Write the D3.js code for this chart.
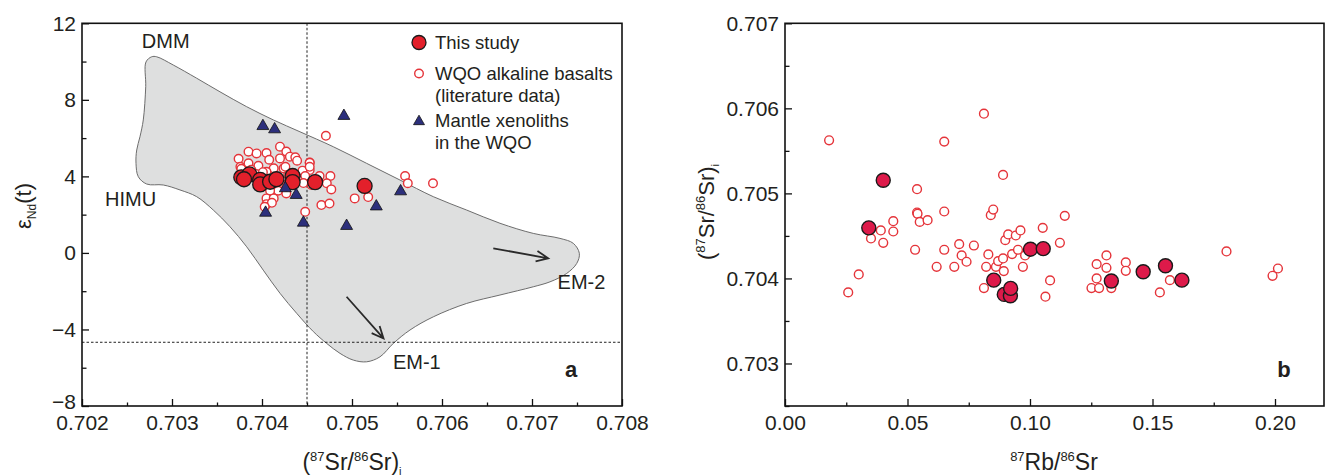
<!DOCTYPE html>
<html lang="en"><head><meta charset="utf-8">
<script type="text/javascript" src="https://cdn.jsdelivr.net/npm/d3@7/dist/d3.min.js"></script>
<style>
  body { margin: 0; background: #fff; }
  text { font-family: "Liberation Sans", Arial, sans-serif; fill: #231f20; }
</style>
</head>
<body>
<script type="text/javascript">
// Sr-Nd isotopes (a) and Rb/Sr vs initial Sr (b)

// ---- panel a data: (87Sr/86Sr)i vs eNd(t)
var aStudy = [[0.70377,3.95],[0.70386,4.10],[0.70380,3.85],[0.70398,3.82],[0.70398,3.58],
  [0.70409,3.72],[0.70416,3.85],[0.70434,4.02],[0.70434,3.70],[0.70459,3.70],[0.70514,3.50]];

var aLit = [[0.70471,6.12],[0.70420,5.55],[0.70427,5.30],[0.70385,5.29],[0.70394,5.20],
  [0.70405,5.22],[0.70431,5.03],[0.70437,5.00],[0.70374,4.92],[0.70408,4.87],[0.70420,4.94],
  [0.70439,4.82],[0.70453,4.73],[0.70385,4.68],[0.70396,4.55],[0.70376,4.50],[0.70413,4.42],
  [0.70424,4.42],[0.70426,4.50],[0.70377,4.40],[0.70453,4.33],[0.70445,4.30],[0.70405,4.24],
  [0.70401,4.22],[0.70464,4.02],[0.70476,4.02],[0.70429,4.07],[0.70416,3.98],[0.70448,4.02],
  [0.70455,3.55],[0.70472,3.64],[0.70477,3.32],[0.70424,3.55],[0.70418,3.25],[0.70427,3.11],
  [0.70409,3.25],[0.70427,3.46],[0.70405,2.85],[0.70413,2.85],[0.70405,2.55],[0.70411,2.62],
  [0.70403,2.41],[0.70448,2.15],[0.70466,2.50],[0.70475,2.58],[0.70503,2.85],[0.70518,2.92],
  [0.70559,4.02],[0.70562,3.64],[0.70590,3.64],[0.70453,4.71],[0.70453,4.50],[0.70388,4.35],
  [0.70440,3.80],[0.70446,3.65]];

var aXeno = [[0.70401,6.68],[0.70414,6.51],[0.70491,7.21],[0.70426,3.43],[0.70438,3.08],
  [0.70404,2.15],[0.70446,1.63],[0.70494,1.46],[0.70527,2.48],[0.70554,3.27]];

// mantle array field outline (DMM - HIMU - EM-1 - EM-2)
var fieldOutline = [[0.702774,10.25],[0.702711,9.98],[0.702708,8.69],[0.702681,6.95],[0.702644,6.07],
  [0.702608,5.38],[0.702600,4.68],[0.702626,3.98],[0.702719,3.60],[0.702903,3.55],[0.703089,3.29],
  [0.703274,2.94],[0.703459,2.24],[0.703644,1.37],[0.703830,0.32],[0.704014,-0.90],[0.704200,-2.11],
  [0.704386,-3.16],[0.704570,-4.11],[0.704719,-4.73],[0.704867,-5.25],[0.705014,-5.60],[0.705163,-5.69],
  [0.705311,-5.43],[0.705459,-4.73],[0.705644,-4.03],[0.705903,-3.34],[0.706274,-2.64],[0.706644,-2.20],
  [0.707014,-1.77],[0.707200,-1.51],[0.707386,-1.07],[0.707497,-0.55],[0.707526,-0.02],[0.707459,0.50],
  [0.707311,0.76],[0.707014,1.02],[0.706644,1.55],[0.706274,2.24],[0.705903,2.94],[0.705533,3.81],
  [0.705163,4.68],[0.704792,5.55],[0.704422,6.33],[0.704126,6.95],[0.703830,7.64],[0.703533,8.42],
  [0.703274,9.13],[0.703014,9.82],[0.702830,10.25]];

var arrowsA = [[[0.70657,0.24],[0.70718,-0.28]], [[0.70494,-2.29],[0.70535,-4.47]]];
var endLabels = [["DMM",0.70293,10.7],["HIMU",0.70254,2.47],["EM-1",0.70572,-6.05],["EM-2",0.70755,-1.9]];
var refSr = 0.7045, refNd = -4.67;

var aXTicks = [0.702,0.703,0.704,0.705,0.706,0.707,0.708];
var aYTicks = [-8,-4,0,4,8,12];

// ---- panel b data: 87Rb/86Sr vs (87Sr/86Sr)i
var bStudy = [[0.0342,0.704595],[0.0401,0.705155],[0.0852,0.70398],[0.0895,0.703812],[0.0920,0.703796],
  [0.0921,0.703883],[0.1002,0.704344],[0.1054,0.70435],[0.1332,0.70397],[0.1462,0.704078],
  [0.1553,0.704149],[0.1620,0.70398]];

var bLit = [[0.0180,0.705624],[0.0258,0.703836],[0.0301,0.704047],[0.0351,0.70447],[0.0391,0.704564],
  [0.0401,0.704419],[0.0442,0.704673],[0.0442,0.704552],[0.0539,0.705049],[0.0539,0.704775],
  [0.0541,0.70476],[0.0550,0.704665],[0.0582,0.704685],[0.0531,0.704337],[0.0650,0.705609],
  [0.0650,0.704787],[0.0650,0.704337],[0.0619,0.704137],[0.0691,0.704137],[0.0711,0.704403],
  [0.0721,0.70427],[0.0741,0.704196],[0.0771,0.704387],[0.0812,0.705937],[0.0812,0.703887],
  [0.0821,0.704137],[0.0830,0.704282],[0.0840,0.704744],[0.0850,0.70481],[0.0861,0.704137],
  [0.0870,0.704204],[0.0890,0.705217],[0.0890,0.704235],[0.0893,0.704086],[0.0899,0.70445],
  [0.0911,0.704517],[0.0927,0.704286],[0.0942,0.704505],[0.0951,0.704337],[0.0961,0.704564],
  [0.0971,0.704137],[0.0980,0.70427],[0.1052,0.704595],[0.1063,0.703785],[0.1082,0.703977],
  [0.1122,0.704419],[0.1142,0.704736],[0.1251,0.703887],[0.1272,0.704168],[0.1272,0.704],
  [0.1282,0.703887],[0.1312,0.70427],[0.1312,0.704125],[0.1332,0.703887],[0.1391,0.704188],
  [0.1391,0.70409],[0.1530,0.703836],[0.1571,0.70398],[0.1802,0.704317],[0.1990,0.704031],
  [0.2012,0.704117]];

var bXTicks = [0.00,0.05,0.10,0.15,0.20];
var bYTicks = [0.703,0.704,0.705,0.706,0.707];

var legendItems = [
  {type: "study", lines: ["This study"]},
  {type: "lit", lines: ["WQO alkaline basalts", "(literature data)"]},
  {type: "xeno", lines: ["Mantle xenoliths", "in the WQO"]}
];

var width = 1327, height = 476;
var svg = d3.select("body").append("svg")
  .attr("width", width).attr("height", height);

var xA = d3.scaleLinear().domain([0.702, 0.708]).range([82, 622]);
var yA = d3.scaleLinear().domain([-8, 12]).range([406, 23.3]);
var xB = d3.scaleLinear().domain([0, 0.22]).range([785, 1324]);
var yB = d3.scaleLinear().domain([0.7025, 0.707]).range([406, 23.3]);

var studyA = "#e3202b", studyB = "#dd1a4a", litColor = "#e5343a", xenoColor = "#2c2f7c";

// rich text helper: parts = [text, fontSize, dy]
function richText(g, x, y, parts, size, rotate) {
  var t = g.append("text").attr("text-anchor", "middle").attr("font-size", size);
  if (rotate) t.attr("transform", "translate(" + x + "," + y + ") rotate(-90)");
  else t.attr("x", x).attr("y", y);
  parts.forEach(function(p) {
    var s = t.append("tspan").text(p[0]).attr("dy", p[2] || 0);
    if (p[1]) s.attr("font-size", p[1]);
  });
  return t;
}

function drawAxes(x, y, xTicks, xMinor, yTicks, yMinor, xFmt, yFmt) {
  var g = svg.append("g");
  var bottom = y.range()[0], left = x.range()[0];
  g.append("g").attr("transform", "translate(0," + bottom + ")")
    .call(d3.axisBottom(x).tickValues(xMinor).tickSize(-3.5).tickFormat(""));
  g.append("g").attr("transform", "translate(0," + bottom + ")")
    .call(d3.axisBottom(x).tickValues(xTicks).tickSize(-7).tickPadding(9).tickFormat(xFmt));
  g.append("g").attr("transform", "translate(" + left + ",0)")
    .call(d3.axisLeft(y).tickValues(yMinor).tickSize(-4.5).tickFormat(""));
  g.append("g").attr("transform", "translate(" + left + ",0)")
    .call(d3.axisLeft(y).tickValues(yTicks).tickSize(-7).tickPadding(6).tickFormat(yFmt));
  g.selectAll(".domain").remove();
  g.selectAll(".tick line").attr("stroke", "#111").attr("stroke-width", 1.3);
  g.selectAll(".tick text").attr("font-size", 21)
    .attr("font-family", "'Liberation Sans', Arial, sans-serif").attr("fill", "#231f20");
  svg.append("rect")
    .attr("x", x.range()[0]).attr("y", y.range()[1])
    .attr("width", x.range()[1] - x.range()[0]).attr("height", y.range()[0] - y.range()[1])
    .attr("fill", "none").attr("stroke", "#111").attr("stroke-width", 1.6);
  return g;
}

// ================= panel a =================
var pa = svg.append("g");
pa.append("path").datum(fieldOutline)
  .attr("d", d3.line().x(d => xA(d[0])).y(d => yA(d[1])).curve(d3.curveCatmullRomClosed.alpha(0.5)))
  .attr("fill", "#dedfdf").attr("stroke", "#6d6d6d").attr("stroke-width", 1);

pa.append("line").attr("x1", xA(refSr)).attr("x2", xA(refSr)).attr("y1", yA(12)).attr("y2", yA(-8))
  .attr("stroke", "#222").attr("stroke-width", 1).attr("stroke-dasharray", "2.5,2");
pa.append("line").attr("x1", xA(0.702)).attr("x2", xA(0.708)).attr("y1", yA(refNd)).attr("y2", yA(refNd))
  .attr("stroke", "#222").attr("stroke-width", 1).attr("stroke-dasharray", "2.5,2");

// arrows toward enriched end-members
arrowsA.forEach(function(a) {
  var x1 = xA(a[0][0]), y1 = yA(a[0][1]), x2 = xA(a[1][0]), y2 = yA(a[1][1]);
  var ang = Math.atan2(y2 - y1, x2 - x1), L = 13, w = 0.42;
  pa.append("path")
    .attr("d", "M" + x1 + "," + y1 + "L" + x2 + "," + y2 +
      "M" + (x2 - L * Math.cos(ang - w)) + "," + (y2 - L * Math.sin(ang - w)) +
      "L" + x2 + "," + y2 +
      "L" + (x2 - L * Math.cos(ang + w)) + "," + (y2 - L * Math.sin(ang + w)))
    .attr("fill", "none").attr("stroke", "#2a2a2a").attr("stroke-width", 1.8);
});

endLabels.forEach(function(d) {
  pa.append("text").attr("x", xA(d[1])).attr("y", yA(d[2])).attr("text-anchor", "middle")
    .attr("font-size", 20).attr("fill", "#333").text(d[0]);
});

pa.selectAll("circle.lit").data(aLit).enter().append("circle")
  .attr("cx", d => xA(d[0])).attr("cy", d => yA(d[1])).attr("r", 4.3)
  .attr("fill", "#fff").attr("stroke", litColor).attr("stroke-width", 1.4);
pa.selectAll("circle.study").data(aStudy).enter().append("circle")
  .attr("cx", d => xA(d[0])).attr("cy", d => yA(d[1])).attr("r", 7.5)
  .attr("fill", studyA).attr("stroke", "#1a1a1a").attr("stroke-width", 1.3);
var tri = d3.symbol().type(d3.symbolTriangle).size(62);
pa.selectAll("path.xeno").data(aXeno).enter().append("path")
  .attr("d", tri).attr("transform", d => "translate(" + xA(d[0]) + "," + (yA(d[1]) + 1) + ")")
  .attr("fill", xenoColor).attr("stroke", "#111").attr("stroke-width", 0.8);

// legend
var lg = pa.append("g").attr("transform", "translate(419,42.5)");
var ly = 0;
legendItems.forEach(function(item) {
  if (item.type === "study") {
    lg.append("circle").attr("cx", 0).attr("cy", ly).attr("r", 7)
      .attr("fill", studyA).attr("stroke", "#1a1a1a").attr("stroke-width", 1.3);
  } else if (item.type === "lit") {
    lg.append("circle").attr("cx", 0).attr("cy", ly).attr("r", 4.3)
      .attr("fill", "#fff").attr("stroke", litColor).attr("stroke-width", 1.4);
  } else {
    lg.append("path").attr("d", d3.symbol().type(d3.symbolTriangle).size(52))
      .attr("transform", "translate(0," + (ly + 1) + ")")
      .attr("fill", xenoColor).attr("stroke", "#111").attr("stroke-width", 0.8);
  }
  item.lines.forEach(function(s, i) {
    lg.append("text").attr("x", 16).attr("y", ly + 6.5 + i * 21.5)
      .attr("font-size", 18.5).attr("fill", "#333").text(s);
  });
  ly += item.lines.length === 1 ? 31 : 47;
});

pa.append("text").attr("x", 571).attr("y", 377).attr("text-anchor", "middle")
  .attr("font-size", 22).attr("font-weight", "bold").attr("fill", "#333").text("a");

var axA = drawAxes(xA, yA, aXTicks, d3.range(0.7025, 0.708, 0.001), aYTicks, d3.range(-6, 12, 4),
  d3.format(".3f"), d3.format("d"));
// lowest y label sits just above the x labels, as in the source figure
axA.selectAll(".tick text").filter(d => d === -8).attr("dy", "0.1em");

richText(svg, 352, 470, [["("], ["87", 13, -9], ["Sr/", null, 9], ["86", 13, -9], ["Sr)", null, 9], ["i", 11, 5]], 23);
richText(svg, 31, 206, [["\u03b5"], ["Nd", 12, 5], ["(t)", null, -5]], 22, true);

// ================= panel b =================
var pb = svg.append("g");
pb.selectAll("circle.lit").data(bLit).enter().append("circle")
  .attr("cx", d => xB(d[0])).attr("cy", d => yB(d[1])).attr("r", 4.4)
  .attr("fill", "#fff").attr("stroke", litColor).attr("stroke-width", 1.4);
pb.selectAll("circle.study").data(bStudy).enter().append("circle")
  .attr("cx", d => xB(d[0])).attr("cy", d => yB(d[1])).attr("r", 7)
  .attr("fill", studyB).attr("stroke", "#1a1a1a").attr("stroke-width", 1.4);

pb.append("text").attr("x", 1284).attr("y", 377).attr("text-anchor", "middle")
  .attr("font-size", 22).attr("font-weight", "bold").attr("fill", "#333").text("b");

drawAxes(xB, yB, bXTicks, d3.range(0.025, 0.22, 0.05), bYTicks, d3.range(0.7025, 0.707, 0.001),
  d3.format(".2f"), d3.format(".3f"));

richText(svg, 1054, 470, [["87", 13, -9], ["Rb/", null, 9], ["86", 13, -9], ["Sr", null, 9]], 23);
richText(svg, 714, 212, [["("], ["87", 13, -9], ["Sr/", null, 9], ["86", 13, -9], ["Sr)", null, 9], ["i", 11, 5]], 22, true);
</script>
</body></html>
